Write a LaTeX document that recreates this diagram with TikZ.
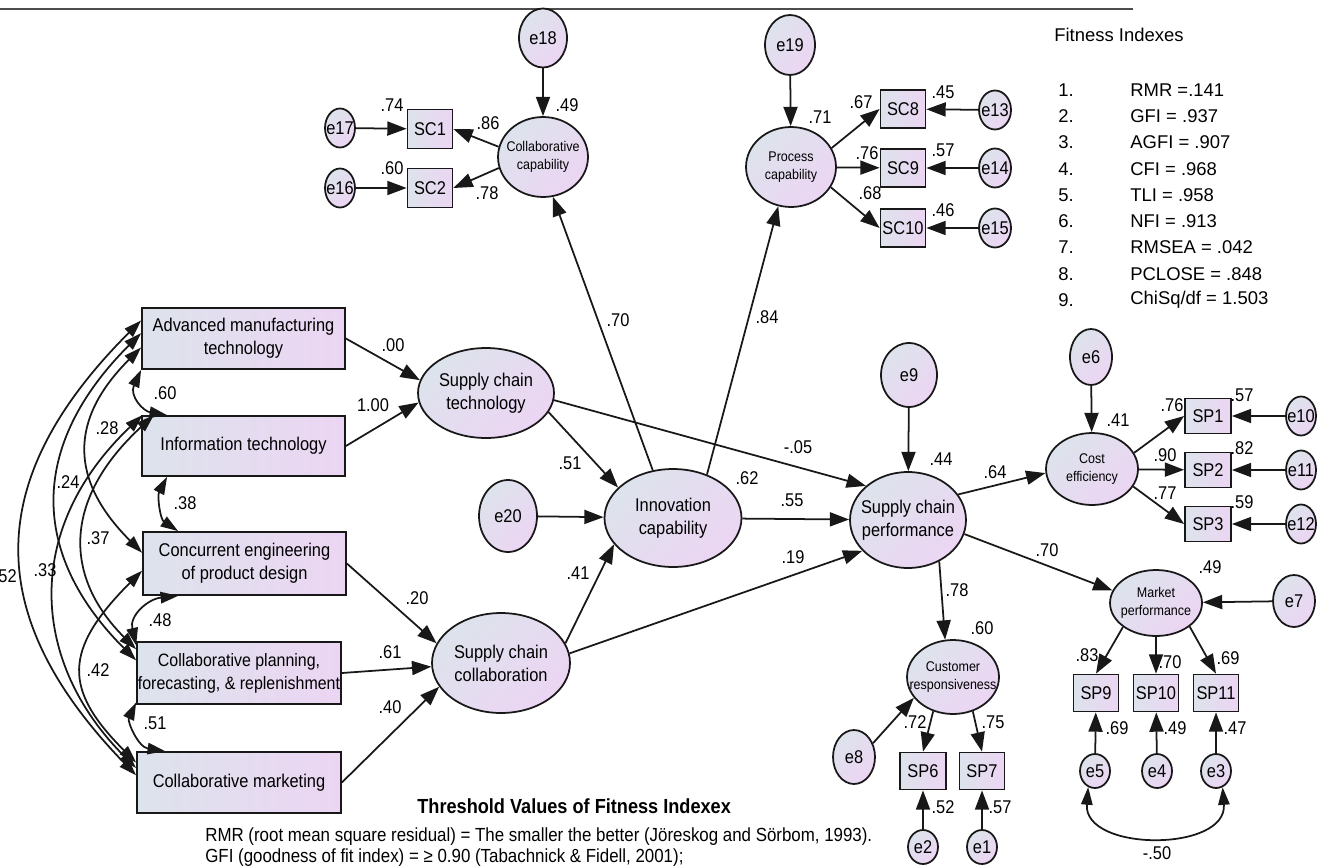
\documentclass[tikz,border=0pt]{standalone}
\usepackage{fontspec}
\setmainfont{Liberation Sans}[FakeStretch=0.89]
\newfontfamily\fitfont{Liberation Sans}
\usepackage{tikz}
\usetikzlibrary{arrows.meta,shapes.geometric,calc}
\definecolor{semblue}{RGB}{221,227,236}
\definecolor{sempink}{RGB}{236,213,243}
\definecolor{semline}{RGB}{24,24,24}
\newcommand{\nowd}[1]{\makebox[0pt]{#1}}
\tikzset{
  obsbox/.style={draw=semline, line width=1pt, rectangle, inner xsep=0pt,
                 align=center, left color=semblue, right color=sempink,
                 minimum width=4.06cm, minimum height=1.22cm,
                 font=\fontsize{10.5}{13}\selectfont},
  indbox/.style={obsbox, minimum width=0.9cm, minimum height=0.76cm},
  latent/.style={draw=semline, line width=1pt, ellipse, inner sep=0pt,
                 align=center, top color=semblue, bottom color=sempink,
                 shading angle=45, font=\fontsize{10.5}{13}\selectfont},
  minilatent/.style={latent, font=\fontsize{8}{10}\selectfont},
  errsmall/.style={latent, minimum width=0.6cm, minimum height=0.78cm},
  lbl/.style={inner sep=0pt, font=\fontsize{10.5}{12}\selectfont},
  fitrow/.style={anchor=west, inner sep=0pt, font=\fitfont\fontsize{10.5}{12}\selectfont},
  arr/.style={-{Triangle[length=11pt,width=8pt]}, line width=1pt, semline},
  corr/.style={{Triangle[length=10pt,width=6.5pt]}-{Triangle[length=10pt,width=6.5pt]},
               line width=1pt, semline},
}
\begin{document}
\begin{tikzpicture}[x=0.02cm,y=-0.02cm]
  \useasboundingbox (0,0) rectangle (1324,865);
  \draw[line width=1.2pt, black!70] (0,9) -- (1133,9);

  %% exogenous practices
  \node[obsbox] (amt) at (243.5,338.5) {Advanced manufacturing\\technology};
  \node[obsbox, minimum height=1.2cm] (it) at (243.5,446) {Information technology};
  \node[obsbox, minimum height=1.26cm] (ce) at (244.5,563.5) {Concurrent engineering\\of product design};
  \node[obsbox, minimum width=4.08cm, minimum height=1.24cm, font=\fontsize{10.2}{13}\selectfont] (cpfr) at (239,673) {Collaborative planning,\\forecasting, \& replenishment};
  \node[obsbox, minimum width=4.08cm] (cm) at (239,782.5) {Collaborative marketing};

  %% latent constructs
  \node[latent, minimum width=2.72cm, minimum height=1.8cm] (sct) at (486,393) {\nowd{Supply chain}\\\nowd{technology}};
  \node[latent, minimum width=2.76cm, minimum height=2cm] (scc) at (501,663) {\nowd{Supply chain}\\\nowd{collaboration}};
  \node[latent, minimum width=2.74cm, minimum height=1.96cm] (ic) at (673,518) {\nowd{Innovation}\\\nowd{capability}};
  \node[latent, minimum width=2.32cm, minimum height=1.92cm] (scp) at (908,520) {\nowd{Supply chain}\\\nowd{performance}};
  \node[minilatent, minimum width=1.8cm, minimum height=1.6cm] (cc) at (543,157) {\nowd{Collaborative}\\\nowd{capability}};
  \node[minilatent, minimum width=1.8cm, minimum height=1.6cm] (pc) at (791,167) {\nowd{Process}\\\nowd{capability}};
  \node[minilatent, minimum width=1.84cm, minimum height=1.44cm] (cost) at (1092,469) {\nowd{Cost}\\\nowd{efficiency}};
  \node[minilatent, minimum width=1.84cm, minimum height=1.32cm] (mp) at (1156,603) {\nowd{Market}\\\nowd{performance}};
  \node[minilatent, minimum width=1.84cm, minimum height=1.48cm] (cr) at (953,677) {\nowd{Customer}\\\nowd{responsiveness}};

  %% indicators
  \node[indbox, minimum height=0.78cm] (sc1) at (430,129) {SC1};
  \node[indbox, minimum height=0.78cm] (sc2) at (430,188) {SC2};
  \node[indbox] (sc8) at (903,109) {SC8};
  \node[indbox] (sc9) at (903,168) {SC9};
  \node[indbox] (sc10) at (903,228) {SC10};
  \node[indbox, minimum width=0.92cm, minimum height=0.7cm] (sp1) at (1208,416) {SP1};
  \node[indbox, minimum width=0.92cm, minimum height=0.7cm] (sp2) at (1208,470) {SP2};
  \node[indbox, minimum width=0.92cm, minimum height=0.7cm] (sp3) at (1208,524) {SP3};
  \node[indbox, minimum height=0.74cm] (sp9) at (1096,693) {SP9};
  \node[indbox, minimum height=0.74cm] (sp10) at (1156,693) {SP10};
  \node[indbox, minimum height=0.74cm] (sp11) at (1216,693) {SP11};
  \node[indbox, minimum width=0.92cm, minimum height=0.74cm] (sp6) at (923,771) {SP6};
  \node[indbox, minimum height=0.74cm] (sp7) at (982,771) {SP7};

  %% error terms
  \node[latent, minimum width=0.96cm, minimum height=1.18cm] (e18) at (543,38) {\nowd{e18}};
  \node[latent, minimum width=1cm, minimum height=1.2cm] (e19) at (790,45) {\nowd{e19}};
  \node[latent, minimum width=1.16cm, minimum height=1.44cm] (e20) at (508,516) {\nowd{e20}};
  \node[latent, minimum width=1.12cm, minimum height=1.28cm] (e9) at (909,375) {\nowd{e9}};
  \node[latent, minimum width=0.84cm, minimum height=1.12cm] (e6) at (1091,357) {\nowd{e6}};
  \node[latent, minimum width=0.84cm, minimum height=1.04cm] (e7) at (1294,601) {\nowd{e7}};
  \node[latent, minimum width=0.84cm, minimum height=1.08cm] (e8) at (854,757) {\nowd{e8}};
  \node[errsmall] (e17) at (340,128) {\nowd{e17}};
  \node[errsmall] (e16) at (340,188) {\nowd{e16}};
  \node[errsmall, minimum width=0.64cm] (e13) at (995,110) {\nowd{e13}};
  \node[errsmall, minimum width=0.64cm] (e14) at (995,168) {\nowd{e14}};
  \node[errsmall, minimum width=0.64cm] (e15) at (995,228) {\nowd{e15}};
  \node[errsmall] (e10) at (1301,416) {\nowd{e10}};
  \node[errsmall] (e11) at (1301,470) {\nowd{e11}};
  \node[errsmall] (e12) at (1301,524) {\nowd{e12}};
  \node[errsmall, minimum height=0.68cm] (e5) at (1095,771) {\nowd{e5}};
  \node[errsmall, minimum height=0.68cm] (e4) at (1157,771) {\nowd{e4}};
  \node[errsmall, minimum height=0.68cm] (e3) at (1216,771) {\nowd{e3}};
  \node[errsmall, minimum height=0.68cm] (e2) at (923,847) {\nowd{e2}};
  \node[errsmall, minimum height=0.68cm] (e1) at (982,847) {\nowd{e1}};

  %% structural paths
  \draw[arr] (amt.east) -- (sct.169);
  \draw[arr] (it.east) -- (sct.188);
  \draw[arr] (ce.east) -- (scc.163);
  \draw[arr] (cpfr.east) -- (scc.183);
  \draw[arr] (cm.east) -- (scc.201);
  \draw[arr] (sct.-17) -- (ic.151);
  \draw[arr] (scc.17) -- (ic.204);
  \draw[arr] (e20) -- (ic);
  \draw[arr] (sct.-6) -- (scp.141);
  \draw[arr] (ic) -- (scp);
  \draw[arr] (scc.8) -- (scp.214);
  \draw[arr] (ic.113) -- (cc.-76);
  \draw[arr] (ic.52) -- (pc.252);
  \draw[arr] (e9) -- (scp);
  \draw[arr] (scp.27) -- (cost.185);
  \draw[arr] (scp.-14) -- (mp.164);
  \draw[arr] (scp.-53) -- (cr.102);

  %% measurement paths
  \draw[arr] (e18) -- (cc);
  \draw[arr] (cc.167) -- (sc1.east);
  \draw[arr] (cc.194) -- (sc2.east);
  \draw[arr] (e17) -- (sc1);
  \draw[arr] (e16) -- (sc2);
  \draw[arr] (e19) -- (pc);
  \draw[arr] (pc.25) -- (sc8.west);
  \draw[arr] (pc) -- (sc9);
  \draw[arr] (pc.-27) -- (sc10.west);
  \draw[arr] (e13) -- (sc8);
  \draw[arr] (e14) -- (sc9);
  \draw[arr] (e15) -- (sc10);
  \draw[arr] (e6) -- (cost);
  \draw[arr] (cost.21) -- (sp1.west);
  \draw[arr] (cost) -- (sp2);
  \draw[arr] (cost.-23) -- (sp3.west);
  \draw[arr] (e10) -- (sp1);
  \draw[arr] (e11) -- (sp2);
  \draw[arr] (e12) -- (sp3);
  \draw[arr] (e7) -- (mp);
  \draw[arr] (mp.216) -- (sp9.north);
  \draw[arr] (mp) -- (sp10);
  \draw[arr] (mp.-35) -- (sp11.north);
  \draw[arr] (e5) -- (sp9);
  \draw[arr] (e4) -- (sp10);
  \draw[arr] (e3) -- (sp11);
  \draw[arr] (e8.36) -- (cr.208);
  \draw[arr] (cr.240) -- (sp6.north);
  \draw[arr] (cr.-60) -- (sp7.north);
  \draw[arr] (e2) -- (sp6);
  \draw[arr] (e1) -- (sp7);
  \draw[corr] (e5.247) .. controls +(-5,65) and +(5,65) .. (e3.292);

  %% correlations among practices
  \draw[corr] (amt.170) .. controls +(-159,159) and +(-154,-159) .. (cm.176);
  \draw[corr] (it.163) .. controls +(-122,116) and +(-104,-104) .. (cm.172);
  \draw[corr] (amt.177) .. controls +(-112,112) and +(-107,-107) .. (cpfr.173);
  \draw[corr] (amt.185) .. controls +(-72,72) and +(-73,-73) .. (ce.174);
  \draw[corr] (it.161) .. controls +(-92,85) and +(-72,-72) .. (cpfr.167);
  \draw[corr] (ce.184) .. controls +(-79,79) and +(-73,-73) .. (cm.169);
  \draw[corr] (amt.197) .. controls +(-12,26) and +(-24,-4) .. (it.158);
  \draw[corr] (it.202) .. controls +(-10,19) and +(-18,-12) .. (ce.154);
  \draw[corr] (ce.206) .. controls +(-30,3) and +(-7,-30) .. (cpfr.165);
  \draw[corr] (cpfr.196) .. controls +(-9,19) and +(-27,-4) .. (cm.157);

  %% estimates, left
  \node[lbl] (k1) at (393,345) {.00};
  \node[lbl] (k2) at (373,405) {1.00};
  \node[lbl] (k3) at (165,393) {.60};
  \node[lbl] (k4) at (107,428) {.28};
  \node[lbl] (k5) at (68,482) {.24};
  \node[lbl] (k6) at (185,503) {.38};
  \node[lbl] (k7) at (98,538) {.37};
  \node[lbl] (k8) at (45,570) {.33};
  \node[lbl, anchor=east] (k9) at (17,576) {.52};
  \node[lbl] (k10) at (417,598) {.20};
  \node[lbl] (k11) at (160,620) {.48};
  \node[lbl] (k12) at (390,652) {.61};
  \node[lbl] (k13) at (98,670) {.42};
  \node[lbl] (k14) at (390,707) {.40};
  \node[lbl] (k15) at (155,723) {.51};

  %% estimates, centre
  \node[lbl] (w1) at (570,463) {.51};
  \node[lbl] (w2) at (578,573) {.41};
  \node[lbl] (w3) at (747,478) {.62};
  \node[lbl] (w4) at (798,447) {-.05};
  \node[lbl] (w5) at (792,500) {.55};
  \node[lbl] (w6) at (793,557) {.19};
  \node[lbl] (w7) at (618,320) {.70};
  \node[lbl] (w8) at (767,317) {.84};

  %% estimates, upper indicators
  \node[lbl] (u1) at (392,105) {.74};
  \node[lbl] (u2) at (392,168) {.60};
  \node[lbl] (u3) at (488,123) {.86};
  \node[lbl] (u4) at (487,193) {.78};
  \node[lbl] (u5) at (567,105) {.49};
  \node[lbl] (u6) at (820,117) {.71};
  \node[lbl] (u7) at (861,102) {.67};
  \node[lbl] (u8) at (943,92) {.45};
  \node[lbl] (u9) at (867,153) {.76};
  \node[lbl] (u10) at (943,150) {.57};
  \node[lbl] (u11) at (870,193) {.68};
  \node[lbl] (u12) at (943,210) {.46};

  %% estimates, performance side
  \node[lbl] (p1) at (941,459) {.44};
  \node[lbl] (p2) at (995,472) {.64};
  \node[lbl] (p3) at (1118,420) {.41};
  \node[lbl] (p4) at (1172,405) {.76};
  \node[lbl] (p5) at (1242,395) {.57};
  \node[lbl] (p6) at (1165,455) {.90};
  \node[lbl] (p7) at (1242,448) {.82};
  \node[lbl] (p8) at (1165,493) {.77};
  \node[lbl] (p9) at (1242,502) {.59};
  \node[lbl] (p10) at (1047,550) {.70};
  \node[lbl] (p11) at (1210,567) {.49};
  \node[lbl] (p12) at (957,590) {.78};
  \node[lbl] (p13) at (982,628) {.60};
  \node[lbl] (p14) at (1087,655) {.83};
  \node[lbl] (p15) at (1170,662) {.70};
  \node[lbl] (p16) at (1228,658) {.69};
  \node[lbl] (p17) at (1117,728) {.69};
  \node[lbl] (p18) at (1175,728) {.49};
  \node[lbl] (p19) at (1235,728) {.47};
  \node[lbl] (p20) at (1157,853) {-.50};
  \node[lbl] (p21) at (915,722) {.72};
  \node[lbl] (p22) at (993,722) {.75};
  \node[lbl] (p23) at (943,807) {.52};
  \node[lbl] (p24) at (1000,807) {.57};

  %% fit indexes
  \node[fitrow] (fithead) at (1054,35) {Fitness Indexes};
  \node[fitrow] (n1) at (1058,90) {1.};
  \node[fitrow] (f1) at (1130,90) {RMR =.141};
  \node[fitrow] (n2) at (1058,116.25) {2.};
  \node[fitrow] (f2) at (1130,116.25) {GFI = .937};
  \node[fitrow] (n3) at (1058,142.5) {3.};
  \node[fitrow] (f3) at (1130,142.5) {AGFI = .907};
  \node[fitrow] (n4) at (1058,168.75) {4.};
  \node[fitrow] (f4) at (1130,168.75) {CFI = .968};
  \node[fitrow] (n5) at (1058,195) {5.};
  \node[fitrow] (f5) at (1130,195) {TLI = .958};
  \node[fitrow] (n6) at (1058,221.25) {6.};
  \node[fitrow] (f6) at (1130,221.25) {NFI = .913};
  \node[fitrow] (n7) at (1058,247.5) {7.};
  \node[fitrow] (f7) at (1130,247.5) {RMSEA = .042};
  \node[fitrow] (n8) at (1058,273.75) {8.};
  \node[fitrow] (f8) at (1130,273.75) {PCLOSE = .848};
  \node[fitrow] (n9) at (1058,300) {9.};
  \node[fitrow] (f9) at (1130,300) {ChiSq/df = 1.503};

  %% thresholds
  \node[anchor=west, inner sep=0pt, font=\bfseries\fontsize{11.6}{14}\selectfont] (thhead) at (417,806) {Threshold Values of Fitness Indexex};
  \node[lbl, anchor=west, font=\fontsize{10.8}{12}\selectfont] (thrmr) at (205,837) {RMR (root mean square residual) = The smaller the better (Jöreskog and Sörbom, 1993).};
  \node[lbl, anchor=west, font=\fontsize{10.8}{12}\selectfont] (thgfi) at (205,858) {GFI (goodness of fit index) = ≥ 0.90 (Tabachnick \& Fidell, 2001);};
\end{tikzpicture}
\end{document}
